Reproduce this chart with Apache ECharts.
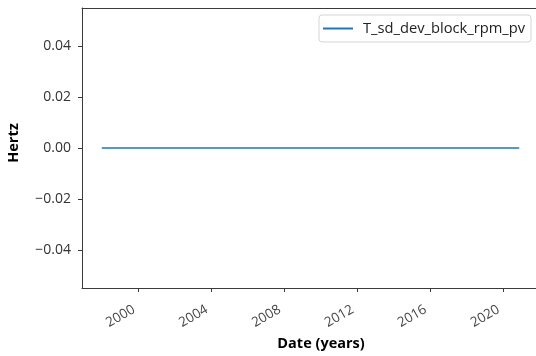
<!DOCTYPE html>
<html>
<head>
<meta charset="utf-8">
<script src="https://cdn.jsdelivr.net/npm/echarts@6/dist/echarts.min.js"></script>
<style>
html,body{margin:0;padding:0;background:#fff;}
#chart{width:536px;height:356px;}
</style>
</head>
<body>
<div id="chart"></div>
<script>
// Data
const seriesName = 'T_sd_dev_block_rpm_pv';
const dates = ['1998-01-01', '2003-01-01', '2008-01-01', '2013-01-01', '2018-01-01', '2020-11-25'];
const values = [0, 0, 0, 0, 0, 0];
const xTickYears = [2000, 2004, 2008, 2012, 2016, 2020];
const yTicks = [-0.04, -0.02, 0.00, 0.02, 0.04];
const xMin = '1996-12-01';
const xMax = '2022-01-15';
const yMin = -0.055, yMax = 0.055;

// decimal-year conversion of date strings
function toYear(s) {
  const d = new Date(s + 'T00:00:00Z');
  const y = d.getUTCFullYear();
  const start = Date.UTC(y, 0, 1), end = Date.UTC(y + 1, 0, 1);
  return y + (d.getTime() - start) / (end - start);
}
const font = 'Open Sans';
const axisColor = '#3a3a3a';

const chart = echarts.init(document.getElementById('chart'), null, {renderer: 'canvas'});
chart.setOption({
  animation: false,
  backgroundColor: '#fff',
  grid: {left: 82, top: 8, width: 458, bottom: 68, containLabel: false, outerBoundsMode: 'none'},
  legend: {
    data: [seriesName],
    left: 319, top: 15,
    padding: [6, 6, 6, 4],
    borderColor: '#d5d5d5', borderWidth: 1, borderRadius: 3,
    icon: 'rect', itemWidth: 30, itemHeight: 2, itemGap: 10,
    textStyle: {fontFamily: font, fontSize: 14.7, color: '#222', padding: [0, 0, 0, 5]}
  },
  xAxis: [{
    type: 'value',
    min: toYear(xMin), max: toYear(xMax),
    name: 'Date (years)', nameLocation: 'middle', nameGap: 44,
    nameTextStyle: {fontFamily: font, fontWeight: 'bold', fontSize: 14.5, color: '#000', padding: [0, 0, 0, 20]},
    axisLine: {onZero: false, lineStyle: {color: axisColor, width: 1}},
    axisTick: {show: true, inside: false, length: 4, customValues: xTickYears, lineStyle: {color: axisColor}},
    axisLabel: {
      customValues: xTickYears, rotate: 30, fontFamily: font, fontSize: 13.5, color: '#444', margin: 18,
      padding: [0, 5, 0, 0],
      formatter: v => String(Math.round(v))
    },
    splitLine: {show: false}
  }, {
    type: 'value', position: 'top',
    min: toYear(xMin), max: toYear(xMax),
    axisLine: {show: true, onZero: false, lineStyle: {color: axisColor, width: 1}},
    axisTick: {show: false}, axisLabel: {show: false}, splitLine: {show: false}
  }],
  yAxis: {
    type: 'value',
    min: yMin, max: yMax,
    name: 'Hertz', nameLocation: 'middle', nameRotate: 90, nameGap: 61,
    nameTextStyle: {fontFamily: font, fontWeight: 'bold', fontSize: 14.5, color: '#000', padding: [0, 0, 0, 10]},
    axisLine: {show: true, onZero: false, lineStyle: {color: axisColor, width: 1}},
    axisTick: {show: true, length: 4, customValues: yTicks, lineStyle: {color: axisColor}},
    axisLabel: {
      customValues: yTicks, fontFamily: font, fontSize: 14, color: '#333', margin: 11,
      formatter: v => v.toFixed(2).replace('-', '\u2212')
    },
    splitLine: {show: false}
  },
  series: [{
    name: seriesName,
    type: 'line',
    data: dates.map((d, i) => [toYear(d), values[i]]),
    symbol: 'none',
    lineStyle: {color: '#1f77b4', width: 1.5},
    itemStyle: {color: '#1f77b4'}
  }]
});
</script>
</body>
</html>
